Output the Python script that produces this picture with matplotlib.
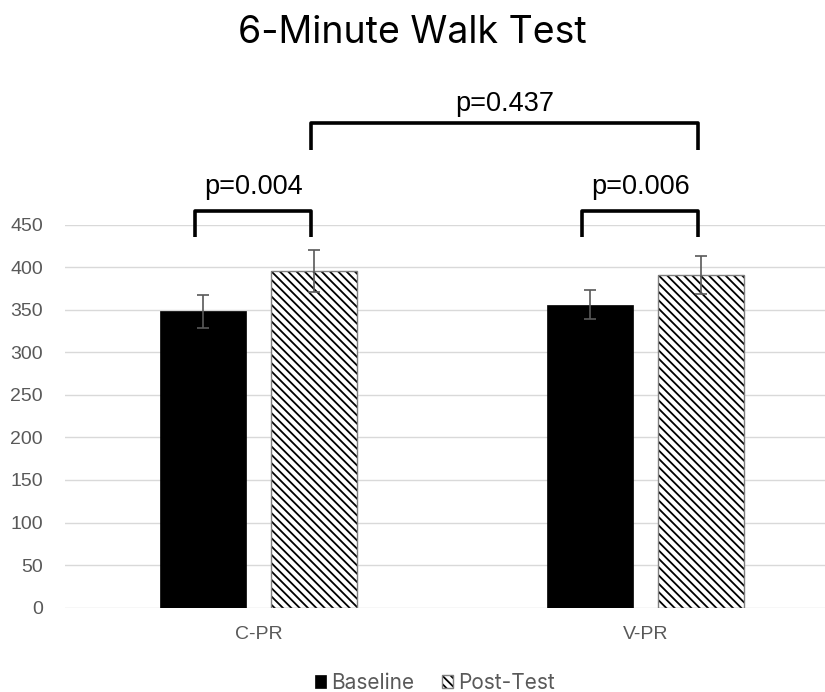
import matplotlib
matplotlib.use("Agg")
import matplotlib.pyplot as plt
import numpy as np

categories = ["C-PR", "V-PR"]
series = ["Baseline", "Post-Test"]
baseline = [348, 356]
baseline_err = [19, 17]
posttest = [395, 391]
posttest_err = [24.5, 22.5]
title = "6-Minute Walk Test"
pvals_within = ["p=0.004", "p=0.006"]
pval_between = "p=0.437"
yticks = [0, 50, 100, 150, 200, 250, 300, 350, 400, 450]

plt.rcParams['hatch.linewidth'] = 1.3
plt.rcParams['hatch.color'] = 'black'

fig = plt.figure(figsize=(8.25, 6.92), dpi=100)
ax = fig.add_axes([65/825, 84.3/692, 774/825, 383.2/692])

x = np.arange(len(categories))
off = 0.1428
w = 0.222
gray = '#595959'
b1 = ax.bar(x - off, baseline, w, color='black', edgecolor='black', linewidth=0.5, zorder=3)
b2 = ax.bar(x + off, posttest, w, color='white', edgecolor='black', linewidth=0,
            hatch='\\\\\\\\', zorder=3)
b3 = ax.bar(x + off, posttest, w, fill=False, edgecolor='#7f7f7f', linewidth=1.0, zorder=3.5)
ax.errorbar(x - off, baseline, yerr=baseline_err, fmt='none', ecolor=gray, elinewidth=1.2,
            capsize=4.5, capthick=1.2, zorder=4)
ax.errorbar(x + off, posttest, yerr=posttest_err, fmt='none', ecolor=gray, elinewidth=1.2,
            capsize=4.5, capthick=1.2, zorder=4)

ax.set_xlim(-0.5, 1.5)
ax.set_ylim(0, 450)
ax.set_yticks(yticks)
ax.yaxis.grid(True, color='#d9d9d9', linewidth=1.0, zorder=0)
ax.set_axisbelow(True)
for s in ax.spines.values():
    s.set_visible(False)
ax.tick_params(axis='both', length=0, labelsize=14, labelcolor=gray)
ax.tick_params(axis='y', pad=16)
ax.tick_params(axis='x', pad=13)
ax.set_xticks(x)
ax.set_xticklabels(categories)
for lab in ax.get_yticklabels() + ax.get_xticklabels():
    lab.set_fontfamily('Liberation Sans')

fig.text(0.5, 1 - 33/692, title, ha='center', va='center', fontsize=27, fontfamily='Inter', color='black')

def bracket(x0, x1, ytop, ybot, label, ytext):
    ax.plot([x0, x0, x1, x1], [ybot, ytop, ytop, ybot], color='black', lw=2.6,
            solid_joinstyle='round', solid_capstyle='butt', clip_on=False, zorder=5)
    ax.text((x0 + x1) / 2, ytext, label, ha='center', va='center', fontsize=19.5,
            fontfamily='Liberation Sans', color='black', clip_on=False)

for i in range(len(categories)):
    bracket(x[i] - off - 0.02, x[i] + off - 0.007, 465.8, 435.3, pvals_within[i], 494)
bracket(x[0] + off - 0.007, x[1] + off - 0.007, 569, 537, pval_between, 591)

leg = fig.legend([b1, (b2, b3)], series, loc='center', bbox_to_anchor=(435/825, 1 - 683/692),
                 ncol=2, frameon=False, handlelength=0.55, handleheight=0.55,
                 handletextpad=0.25, columnspacing=1.3, prop={'family': 'Inter', 'size': 15})
for t in leg.get_texts():
    t.set_color(gray)

fig.savefig("out.png", dpi=100)
